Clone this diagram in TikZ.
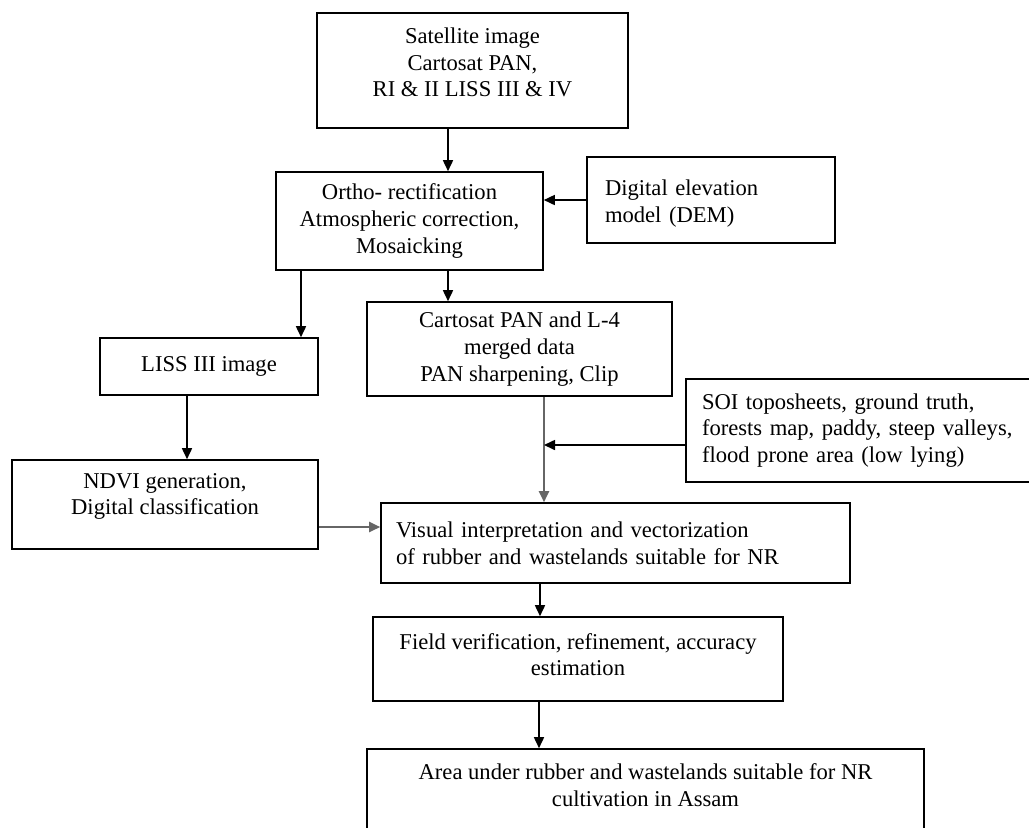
\documentclass[tikz,border=0pt]{standalone}
\usepackage{fontspec}
\setmainfont{Liberation Serif}
\usepackage{tikz}
\usetikzlibrary{
  arrows.meta,
  calc,
  positioning
}
\tikzset{
  >={Triangle[length=5.5pt,width=5pt]},
  every picture/.style={line width=0.8pt},
  box/.style={draw, align=center, inner sep=0pt, font=\fontsize{11.3}{13.3}\selectfont},
  leftbox/.style={box, align=left},
  arrow/.style={->},
  greyarrow/.style={->, draw=gray!80!black, line width=1pt}
}

\begin{document}
\begin{tikzpicture}[x=0.5pt, y=-0.5pt]
    \useasboundingbox (0,0) rectangle (1029,827);

    \node[box, minimum width=155.5pt, minimum height=57.5pt, text depth=8pt] (sat) at (472.5,70.5)
        {Satellite image\\Cartosat PAN,\\RI \& II LISS III \& IV};
    \node[box, minimum width=133.5pt, minimum height=49pt] (ortho) at (409.5,221)
        {Ortho- rectification\\Atmospheric correction,\\Mosaicking};
    \node[leftbox, minimum width=124pt, minimum height=43pt, text width=106pt, text depth=12pt] (dem) at (711,200)
        {Digital elevation\\model (DEM)};
    \node[box, minimum width=109pt, minimum height=28.5pt] (liss) at (209,366.5)
        {LISS III image};
    \node[box, minimum width=152.5pt, minimum height=47pt] (carto) at (519.5,349)
        {Cartosat PAN and L-4\\merged data\\PAN sharpening, Clip};
    \node[box, minimum width=153pt, minimum height=44.5pt, text depth=10.5pt] (ndvi) at (165,504.5)
        {NDVI generation,\\Digital classification};
    \node[leftbox, minimum width=187pt, minimum height=51.5pt, text width=171pt] (soi) at (873,430.5)
        {SOI toposheets, ground truth,\\forests map, paddy, steep valleys,\\flood prone area (low lying)};
    \node[leftbox, minimum width=234.5pt, minimum height=40pt, text width=219.5pt] (visual) at (615.5,543)
        {Visual interpretation and vectorization\\of rubber and wastelands suitable for NR};
    \node[box, minimum width=205pt, minimum height=42pt, text depth=4.5pt] (field) at (578,659)
        {Field verification, refinement, accuracy\\estimation};
    \node[box, minimum width=278.5pt, minimum height=43pt, text depth=7pt] (area) at (645.5,792)
        {Area under rubber and wastelands suitable for NR\\cultivation in Assam};

    \coordinate (join) at (544,445);

    \draw[arrow] (448,0 |- sat.south) -- (448,0 |- ortho.north);
    \draw[arrow] (dem.west) -- (dem.west -| ortho.east);
    \draw[arrow] (301,0 |- ortho.south) -- (301,0 |- liss.north);
    \draw[arrow] (448,0 |- ortho.south) -- (448,0 |- carto.north);
    \draw[arrow] (187,0 |- liss.south) -- (187,0 |- ndvi.north);
    \draw[greyarrow] (join |- carto.south) -- (join |- visual.north);
    \draw[arrow] (soi.west |- join) -- (join);
    \draw[greyarrow] (ndvi.east |- 0,527) -- (visual.west |- 0,527);
    \draw[arrow] (540,0 |- visual.south) -- (540,0 |- field.north);
    \draw[arrow] (539,0 |- field.south) -- (539,0 |- area.north);
\end{tikzpicture}
\end{document}
